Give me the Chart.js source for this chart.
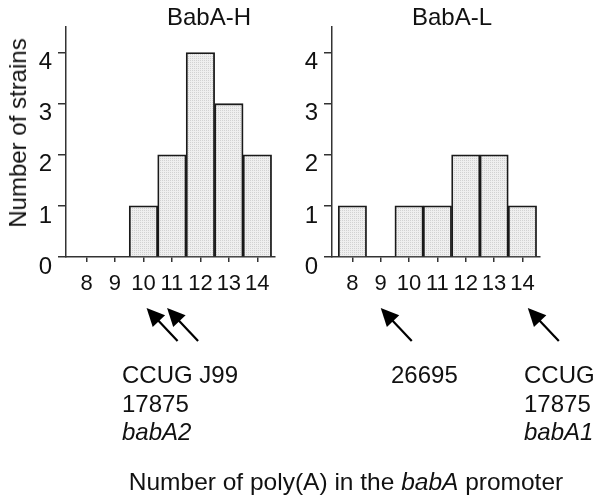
<!DOCTYPE html>
<html>
<head>
<meta charset="utf-8">
<script src="https://cdn.jsdelivr.net/npm/chart.js@4.4.0/dist/chart.umd.min.js"></script>
<style>
  html, body { margin: 0; padding: 0; background: #fff; }
  #wrap { position: relative; width: 600px; height: 501px; overflow: hidden; font-family: "Liberation Sans", Arial, sans-serif; color: #111; }
  canvas { position: absolute; top: 0; }
  .t { position: absolute; white-space: nowrap; }
</style>
</head>
<body>
<div id="wrap">
  <canvas id="cH" width="300" height="501" style="left:0px"></canvas>
  <canvas id="cL" width="320" height="501" style="left:280px"></canvas>

  <div class="t" style="left:18px; top:133px; font-size:24px; line-height:28px; transform:translate(-50%,-50%) rotate(-90deg);">Number of strains</div>
  <div class="t" style="left:209px; top:17px; font-size:24px; line-height:28px; transform:translate(-50%,-50%);">BabA-H</div>
  <div class="t" style="left:452px; top:17px; font-size:24px; line-height:28px; transform:translate(-50%,-50%);">BabA-L</div>

  <div class="t" style="left:122px; top:361px; font-size:24px; line-height:28.5px;">CCUG J99<br>17875<br><i>babA2</i></div>
  <div class="t" style="left:391px; top:361px; font-size:24px; line-height:28.5px;">26695</div>
  <div class="t" style="left:524px; top:361px; font-size:24px; line-height:28.5px;">CCUG<br>17875<br><i>babA1</i></div>

  <div class="t" style="left:346px; top:482px; font-size:24.5px; line-height:28px; transform:translate(-50%,-50%);">Number of poly(A) in the <i>babA</i> promoter</div>
</div>
<script>
// ---- data ----
const categories = [8, 9, 10, 11, 12, 13, 14];
const countsH = [0, 0, 1, 2, 4, 3, 2];   // BabA-H
const countsL = [1, 0, 1, 1, 2, 2, 1];   // BabA-L
const yTickValues = [0, 1, 2, 3, 4];
const arrowTipsH = [10.11, 10.83];       // CCUG 17875 babA2, J99
const arrowTipsL = [9.0, 14.19];         // 26695, CCUG 17875 babA1

Chart.defaults.font.family = '"Liberation Sans", Arial, sans-serif';
Chart.defaults.color = '#111';

// light dotted grey fill
function makePattern() {
  const c = document.createElement('canvas');
  c.width = 2; c.height = 2;
  const g = c.getContext('2d');
  g.fillStyle = '#efefef'; g.fillRect(0, 0, 2, 2);
  g.fillStyle = '#d2d2d2'; g.fillRect(0, 0, 1, 1);
  return g.createPattern(c, 'repeat');
}

const arrowPlugin = {
  id: 'arrows',
  afterDraw(chart, args, opts) {
    const ctx = chart.ctx;
    const xs = chart.scales.x;
    ctx.save();
    ctx.strokeStyle = '#000';
    ctx.fillStyle = '#000';
    ctx.lineWidth = 2.2;
    (opts.tips || []).forEach(v => {
      const tx = xs.getPixelForValue(v);
      const ty = 308;
      const ex = tx + 31, ey = ty + 33;
      const ang = Math.atan2(ey - ty, ex - tx);
      const hl = 18, hw = 8.5;
      const bx = tx + Math.cos(ang) * hl, by = ty + Math.sin(ang) * hl;
      ctx.beginPath();
      ctx.moveTo(bx - Math.cos(ang) * 2, by - Math.sin(ang) * 2);
      ctx.lineTo(ex, ey);
      ctx.stroke();
      ctx.beginPath();
      ctx.moveTo(tx, ty);
      ctx.lineTo(bx + Math.sin(ang) * hw, by - Math.cos(ang) * hw);
      ctx.lineTo(bx - Math.sin(ang) * hw, by + Math.cos(ang) * hw);
      ctx.closePath();
      ctx.fill();
    });
    ctx.restore();
  }
};

function makeChart(id, counts, tips, yWidth, padRight) {
  const pattern = makePattern();
  return new Chart(document.getElementById(id), {
    type: 'bar',
    data: {
      datasets: [{
        data: categories.map((c, i) => ({ x: c, y: counts[i] })),
        backgroundColor: pattern,
        borderColor: '#1a1a1a',
        borderWidth: 1.8,
        borderSkipped: 'bottom',
        barPercentage: 1,
        categoryPercentage: 1
      }]
    },
    options: {
      responsive: false,
      animation: false,
      events: [],
      layout: { padding: { top: 27, right: padRight, left: 0, bottom: 0 } },
      plugins: {
        legend: { display: false },
        tooltip: { enabled: false },
        title: { display: false },
        arrows: { tips: tips }
      },
      scales: {
        x: {
          type: 'linear',
          min: 7.28,
          max: 14.62,
          offset: false,
          afterBuildTicks: s => { s.ticks = categories.map(v => ({ value: v })); },
          afterFit: s => { s.height = 244; },
          ticks: {
            font: { size: 22 },
            color: '#111',
            padding: 9,
            maxRotation: 0,
            autoSkip: false,
            callback: v => String(v)
          },
          grid: {
            display: true,
            offset: false,
            drawOnChartArea: false,
            drawTicks: true,
            tickLength: 5,
            color: '#333',
            lineWidth: 1.5
          },
          border: { display: true, color: '#333', width: 1.5 }
        },
        y: {
          type: 'linear',
          min: 0,
          max: 4.5,
          afterBuildTicks: s => { s.ticks = yTickValues.map(v => ({ value: v })); },
          afterFit: s => { s.width = yWidth; },
          ticks: {
            font: { size: 24 },
            color: '#111',
            padding: 6,
            labelOffset: 10,
            callback: v => String(v)
          },
          grid: {
            display: true,
            drawOnChartArea: false,
            drawTicks: true,
            tickLength: 8,
            color: '#333',
            lineWidth: 1.5
          },
          border: { display: true, color: '#333', width: 1.5 }
        }
      }
    },
    plugins: [arrowPlugin]
  });
}

makeChart('cH', countsH, arrowTipsH, 66, 25);
makeChart('cL', countsL, arrowTipsL, 52, 60);
</script>
</body>
</html>
